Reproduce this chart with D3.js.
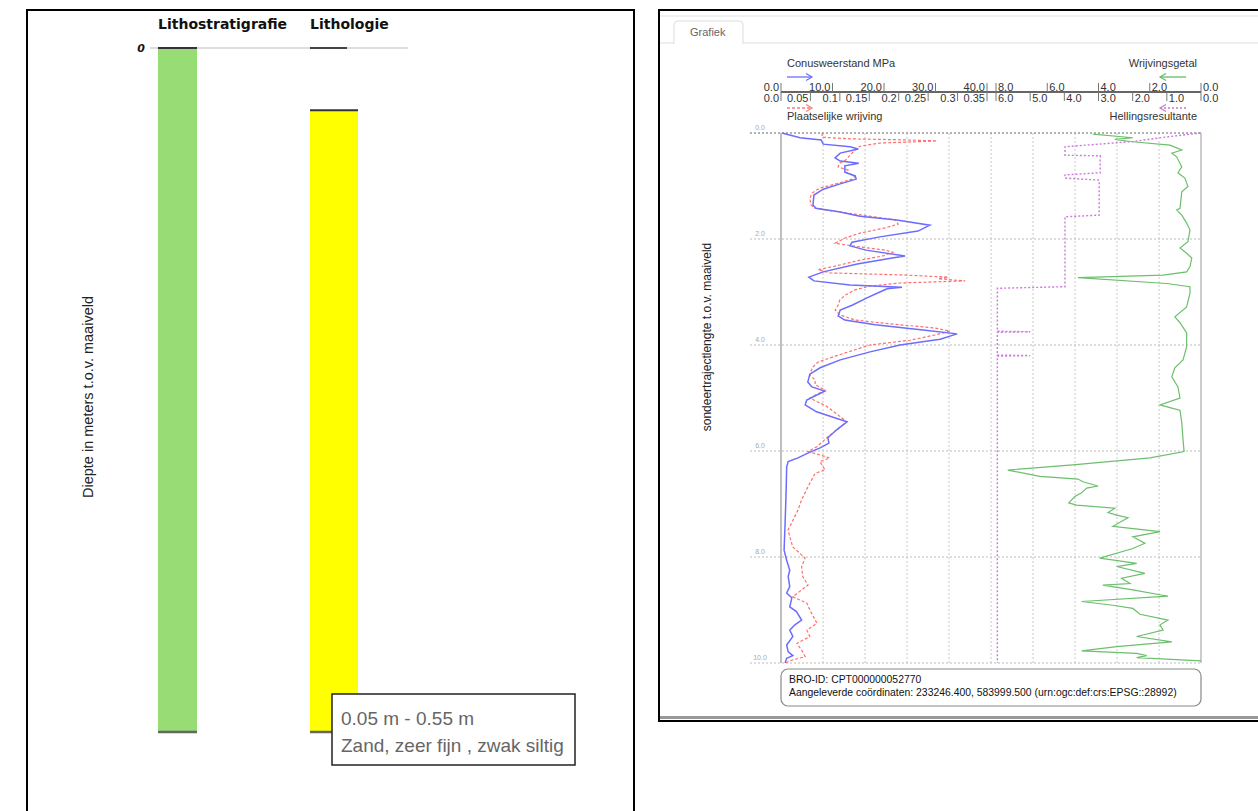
<!DOCTYPE html>
<html>
<head>
<meta charset="utf-8">
<script src="https://cdn.jsdelivr.net/npm/d3@7"></script>
<style>
  html, body { margin: 0; padding: 0; background: #fff; }
  svg { display: block; font-family: "Liberation Sans", Arial, sans-serif; }
</style>
</head>
<body>
<svg id="chart" width="1258" height="811"></svg>
<script>
// ---------- Boorprofiel (left panel) ----------
const lithoColumns = ["Lithostratigrafie", "Lithologie"];
const lithostratLayers = [{ top: 0.0, bottom: 0.55, color: "#98dc76" }];
const lithologyLayers = [{ top: 0.05, bottom: 0.55, color: "#ffff00" }];
const lithologyEmptyLayer = [{ top: 0.0, bottom: 0.05 }];
const leftDepthTicks = [0];
const tooltipLines = ["0.05 m - 0.55 m", "Zand, zeer fijn , zwak siltig"];

// ---------- Sondering (right panel) ----------
const conusTicks = [0, 10, 20, 30, 40];
const frictionTicks = [0, 0.05, 0.1, 0.15, 0.2, 0.25, 0.3, 0.35];
const frictionTickLabels = ["0.0", "0.05", "0.1", "0.15", "0.2", "0.25", "0.3", "0.35"];
const ratioTicks = [8, 6, 4, 2, 0];
const inclinationTicks = [6, 5, 4, 3, 2, 1, 0];
const depthTicks = [0, 2, 4, 6, 8, 10];

// Conusweerstand [depth m, MPa]
const conus = [
  [0.00,0.2],[0.09,3.7],[0.13,7.8],[0.21,8.2],[0.26,13.4],[0.30,15.0],[0.38,11.5],[0.47,10.5],
  [0.53,11.5],[0.57,15.1],[0.62,12.4],[0.74,12.4],[0.81,14.4],[0.87,14.6],[0.96,11.5],[1.06,8.2],
  [1.17,6.4],[1.36,6.2],[1.42,6.8],[1.49,11.5],[1.57,15.3],[1.64,22.5],[1.74,28.9],[1.85,26.6],
  [1.96,19.2],[2.06,13.8],[2.13,13.4],[2.21,16.5],[2.32,24.1],[2.36,21.6],[2.47,14.8],[2.62,8.2],
  [2.72,5.4],[2.79,6.4],[2.87,13.4],[2.91,23.5],[2.94,20.6],[3.00,19.2],[3.11,16.7],[3.25,13.8],
  [3.34,11.5],[3.45,11.1],[3.53,12.4],[3.62,18.3],[3.72,28.0],[3.79,34.2],[3.89,30.9],[4.00,23.1],
  [4.13,17.3],[4.28,11.5],[4.43,7.6],[4.55,5.6],[4.70,5.2],[4.79,6.0],[4.87,8.5],[5.04,5.0],
  [5.13,4.7],[5.26,6.9],[5.45,12.8],[5.60,10.8],[5.75,9.1],[5.85,9.3],[5.94,7.6],[6.04,5.2],
  [6.13,3.3],[6.20,1.4],[6.30,1.1],[6.74,1.0],[7.36,0.8],[7.87,0.6],[8.06,1.1],[8.25,1.7],
  [8.37,1.4],[8.56,1.7],[8.68,1.1],[8.77,2.1],[8.94,1.7],[9.03,3.0],[9.19,4.0],[9.28,2.7],
  [9.38,1.7],[9.50,2.3],[9.66,1.1],[9.79,1.4],[9.86,2.3],[9.91,1.1],[10.0,0.8]
];

// Plaatselijke wrijving [depth m, MPa]
const friction = [
  [0.00,0.070],[0.08,0.070],[0.11,0.117],[0.13,0.211],[0.15,0.265],[0.19,0.168],[0.25,0.134],
  [0.32,0.126],[0.42,0.117],[0.51,0.110],[0.57,0.100],[0.64,0.097],[0.70,0.114],[0.74,0.110],
  [0.81,0.126],[0.87,0.121],[0.94,0.100],[1.04,0.066],[1.13,0.053],[1.23,0.049],[1.36,0.051],
  [1.42,0.058],[1.49,0.100],[1.57,0.151],[1.64,0.194],[1.72,0.199],[1.79,0.177],[1.89,0.134],
  [1.98,0.109],[2.08,0.092],[2.15,0.134],[2.21,0.177],[2.25,0.190],[2.32,0.173],[2.40,0.134],
  [2.49,0.100],[2.58,0.063],[2.64,0.083],[2.68,0.211],[2.72,0.284],[2.75,0.267],[2.79,0.313],
  [2.83,0.202],[2.89,0.151],[2.96,0.126],[3.06,0.109],[3.15,0.100],[3.25,0.097],[3.34,0.092],
  [3.43,0.100],[3.53,0.126],[3.60,0.185],[3.68,0.262],[3.74,0.287],[3.81,0.262],[3.91,0.219],
  [4.00,0.151],[4.09,0.126],[4.21,0.092],[4.32,0.063],[4.43,0.053],[4.57,0.049],[4.66,0.058],
  [4.75,0.058],[4.85,0.075],[5.00,0.049],[5.16,0.078],[5.45,0.112],[5.73,0.080],[5.92,0.061],
  [6.01,0.046],[6.13,0.083],[6.20,0.066],[6.36,0.075],[6.42,0.058],[6.67,0.046],[6.92,0.035],
  [7.11,0.029],[7.36,0.018],[7.49,0.012],[7.62,0.015],[7.81,0.020],[8.02,0.041],[8.18,0.035],
  [8.37,0.037],[8.53,0.046],[8.75,0.020],[8.87,0.044],[9.00,0.049],[9.25,0.061],[9.38,0.044],
  [9.50,0.049],[9.63,0.027],[9.79,0.037],[9.88,0.041],[9.94,0.020],[10.0,0.007]
];

// Wrijvingsgetal [depth m, %]
const frictionRatio = [
  [0.02,4.22],[0.09,2.66],[0.12,3.36],[0.16,2.77],[0.23,1.21],[0.32,0.75],[0.38,1.14],[0.45,0.95],
  [0.64,0.75],[0.75,0.90],[0.85,0.63],[1.01,0.51],[1.11,0.75],[1.42,0.82],[1.45,0.95],[1.55,0.75],
  [1.70,0.56],[1.83,0.43],[2.05,0.51],[2.17,0.82],[2.27,0.56],[2.36,0.36],[2.52,0.43],[2.62,0.56],
  [2.68,1.48],[2.73,4.80],[2.84,1.34],[2.90,0.43],[3.02,0.43],[3.28,0.56],[3.47,1.02],[3.58,0.82],
  [3.77,0.56],[4.03,0.56],[4.28,0.70],[4.43,1.02],[4.60,1.14],[4.79,0.90],[5.00,0.82],[5.13,1.60],
  [5.19,1.14],[5.23,0.82],[5.47,0.75],[5.79,0.70],[6.01,0.66],[6.13,1.99],[6.26,5.00],[6.36,7.54],
  [6.48,6.29],[6.53,4.80],[6.58,4.61],[6.66,4.02],[6.70,4.46],[6.79,4.66],[6.86,4.92],[6.98,5.16],
  [7.02,4.86],[7.08,3.36],[7.16,3.63],[7.21,3.29],[7.26,2.85],[7.42,3.44],[7.52,1.60],[7.62,2.66],
  [7.74,2.19],[7.84,2.66],[8.02,3.95],[8.12,2.51],[8.18,3.29],[8.31,2.19],[8.40,3.10],[8.50,2.77],
  [8.53,3.83],[8.62,2.66],[8.74,1.29],[8.84,4.66],[8.91,3.44],[8.97,2.66],[9.08,2.38],[9.19,1.29],
  [9.28,1.60],[9.38,1.48],[9.50,2.51],[9.60,1.14],[9.69,3.29],[9.77,4.66],[9.82,2.51],[9.86,2.12],
  [9.90,2.51],[9.96,0.00]
];

// Hellingsresultante [depth m, graden]
const inclination = [
  [0.00,0.00],[0.07,0.96],[0.16,1.99],[0.26,3.98],[0.42,3.98],[0.43,2.95],[0.75,2.95],[0.79,3.98],
  [0.85,3.98],[0.89,2.98],[1.55,2.98],[1.58,3.98],[2.90,3.98],[2.93,5.96],[3.74,5.96],[3.75,5.00],
  [3.76,5.96],[4.19,5.96],[4.20,5.00],[4.21,5.96],[10.0,5.96]
];

const broId = "BRO-ID: CPT000000052770";
const coordText = "Aangeleverde coördinaten: 233246.400, 583999.500 (urn:ogc:def:crs:EPSG::28992)";

const svg = d3.select("#chart");

// ================= Left panel =================
const left = svg.append("g");
left.append("rect").attr("x", 27).attr("y", 10).attr("width", 607).attr("height", 820)
  .attr("fill", "#fff").attr("stroke", "#000").attr("stroke-width", 2);

const yLeft = d3.scaleLinear().domain([0, 0.55]).range([48, 732]);
const colX = { "Lithostratigrafie": [158, 197], "Lithologie": [310, 358] };

left.selectAll("text.coltitle").data(lithoColumns).join("text")
  .attr("x", d => colX[d][0]).attr("y", 29)
  .attr("font-family", "'DejaVu Sans', sans-serif").attr("font-weight", "bold")
  .attr("font-size", 14).attr("fill", "#111").text(d => d);

left.append("line").attr("x1", 150).attr("x2", 408)
  .attr("y1", yLeft(0)).attr("y2", yLeft(0)).attr("stroke", "#bbb").attr("stroke-width", 1.2);
left.selectAll("text.ltick").data(leftDepthTicks).join("text")
  .attr("x", 145).attr("y", d => yLeft(d) + 4).attr("text-anchor", "end")
  .attr("font-family", "'DejaVu Sans', sans-serif").attr("font-weight", "bold").attr("font-style", "italic")
  .attr("font-size", 11).attr("fill", "#111").text(d => d);

function drawLayers(layers, col) {
  const [x0, x1] = colX[col];
  layers.forEach(l => {
    left.append("rect").attr("x", x0).attr("y", yLeft(l.top))
      .attr("width", x1 - x0).attr("height", yLeft(l.bottom) - yLeft(l.top)).attr("fill", l.color);
    left.append("line").attr("x1", x0).attr("x2", x1).attr("y1", yLeft(l.top)).attr("y2", yLeft(l.top))
      .attr("stroke", "#333").attr("stroke-width", 2);
    left.append("line").attr("x1", x0).attr("x2", x1).attr("y1", yLeft(l.bottom)).attr("y2", yLeft(l.bottom))
      .attr("stroke", "#666").attr("stroke-width", 2.5);
  });
}
drawLayers(lithostratLayers, "Lithostratigrafie");
drawLayers(lithologyLayers, "Lithologie");
lithologyEmptyLayer.forEach(l => {
  left.append("line").attr("x1", 310).attr("x2", 347).attr("y1", yLeft(l.top)).attr("y2", yLeft(l.top))
    .attr("stroke", "#444").attr("stroke-width", 2);
});

left.append("text").attr("transform", "translate(93,397) rotate(-90)").attr("text-anchor", "middle")
  .attr("font-size", 14.5).attr("fill", "#222").text("Diepte in meters t.o.v. maaiveld");

// tooltip
const tip = left.append("g");
tip.append("rect").attr("x", 332).attr("y", 694).attr("width", 243).attr("height", 71)
  .attr("fill", "#fff").attr("stroke", "#222").attr("stroke-width", 1.5);
tip.selectAll("text").data(tooltipLines).join("text")
  .attr("x", 341).attr("y", (d, i) => 725 + i * 27)
  .attr("font-size", 19).attr("fill", "#666").text(d => d);

// ================= Right panel =================
const right = svg.append("g");
right.append("rect").attr("x", 659).attr("y", 10).attr("width", 620).attr("height", 711)
  .attr("fill", "#fff").attr("stroke", "#000").attr("stroke-width", 2);
right.append("line").attr("x1", 660).attr("x2", 1258).attr("y1", 16).attr("y2", 16).attr("stroke", "#e4e4e4");
right.append("rect").attr("x", 660).attr("y", 716).attr("width", 598).attr("height", 3).attr("fill", "#999");

// tab
right.append("line").attr("x1", 660).attr("x2", 1258).attr("y1", 43).attr("y2", 43).attr("stroke", "#ddd");
right.append("path").attr("d", "M674,44 L674,25 Q674,21 678,21 L739,21 Q743,21 743,25 L743,44")
  .attr("fill", "#fff").attr("stroke", "#ddd");
right.append("text").attr("x", 690).attr("y", 36).attr("font-size", 11).attr("fill", "#666").text("Grafiek");

// scales
const yR = d3.scaleLinear().domain([0, 10]).range([133, 663]);
const xGrid = d3.scaleLinear().domain([0, 10]).range([781, 1201]);
const xConus = d3.scaleLinear().domain([0, 40]).range([781, 987]);
const xFric = d3.scaleLinear().domain([0, 0.35]).range([781, 987]);
const xRatio = d3.scaleLinear().domain([8, 0]).range([996, 1201]);
const xIncl = d3.scaleLinear().domain([6, 0]).range([996, 1201]);

// grid
const grid = right.append("g");
grid.selectAll("line.v").data(d3.range(1, 10)).join("line")
  .attr("x1", d => xGrid(d)).attr("x2", d => xGrid(d)).attr("y1", yR(0)).attr("y2", yR(10))
  .attr("stroke", "#c8c8c8").attr("stroke-dasharray", "2,2");
grid.selectAll("line.h").data(depthTicks).join("line")
  .attr("x1", 750).attr("x2", 1201).attr("y1", d => yR(d)).attr("y2", d => yR(d))
  .attr("stroke", (d, i) => i === 0 ? "#999" : "#bbb").attr("stroke-width", (d, i) => i === 0 ? 1.5 : 1)
  .attr("stroke-dasharray", "2,2");
grid.append("line").attr("x1", 781).attr("x2", 781).attr("y1", yR(0)).attr("y2", yR(10))
  .attr("stroke", "#aaa").attr("stroke-width", 1.5);
grid.append("line").attr("x1", 1201).attr("x2", 1201).attr("y1", yR(0)).attr("y2", yR(10))
  .attr("stroke", "#aaa").attr("stroke-width", 1.2);
grid.selectAll("text").data(depthTicks).join("text")
  .attr("x", 760).attr("y", d => yR(d) - 3).attr("text-anchor", "middle")
  .attr("font-size", 7).attr("fill", "#aaa").text(d => d.toFixed(1));

right.append("text").attr("transform", "translate(711,337) rotate(-90)").attr("text-anchor", "middle")
  .attr("font-size", 12).attr("fill", "#222").text("sondeertrajectlengte t.o.v. maaiveld");

// header axis
const hdr = right.append("g").attr("font-size", 11).attr("fill", "#333");
const axisY = 92;
hdr.append("line").attr("x1", 781).attr("x2", 1201).attr("y1", axisY).attr("y2", axisY)
  .attr("stroke", "#333").attr("stroke-width", 1.5);

function tickRow(ticks, scale, labels, above, textSide) {
  const g = hdr.append("g");
  ticks.forEach((t, i) => {
    const x = scale(t);
    g.append("line").attr("x1", x).attr("x2", x)
      .attr("y1", above ? axisY - 9 : axisY).attr("y2", above ? axisY : axisY + 9)
      .attr("stroke", "#777").attr("stroke-width", 1);
    g.append("text").attr("x", textSide === "left" ? x - 2 : x + 2)
      .attr("y", above ? axisY - 1 : axisY + 10)
      .attr("text-anchor", textSide === "left" ? "end" : "start")
      .text(labels[i]);
  });
}
tickRow(conusTicks, xConus, conusTicks.map(d => d.toFixed(1)), true, "left");
tickRow(ratioTicks, xRatio, ratioTicks.map(d => d.toFixed(1)), true, "right");
tickRow(frictionTicks, xFric, frictionTickLabels, false, "left");
tickRow(inclinationTicks, xIncl, inclinationTicks.map(d => d.toFixed(1)), false, "right");

hdr.append("text").attr("x", 787).attr("y", 67).text("Conusweerstand MPa");
hdr.append("text").attr("x", 1197).attr("y", 67).attr("text-anchor", "end").text("Wrijvingsgetal");
hdr.append("text").attr("x", 787).attr("y", 120).text("Plaatselijke wrijving");
hdr.append("text").attr("x", 1197).attr("y", 120).attr("text-anchor", "end").text("Hellingsresultante");

function arrow(x1, x2, y, color, dash) {
  const dir = Math.sign(x2 - x1);
  hdr.append("line").attr("x1", x1).attr("x2", x2).attr("y1", y).attr("y2", y)
    .attr("stroke", color).attr("stroke-width", 1.3).attr("stroke-dasharray", dash);
  hdr.append("path").attr("d", `M${x2 - dir * 6},${y - 3.5} L${x2},${y} L${x2 - dir * 6},${y + 3.5}`)
    .attr("fill", "none").attr("stroke", color).attr("stroke-width", 1.2);
}
arrow(787, 812, 77, "#6c6cff", null);
arrow(1186, 1160, 77, "#66bb66", null);
arrow(787, 812, 108, "#ff7a7a", "3,2");
arrow(1186, 1160, 108, "#cc77cc", "2,2");

// curves
const curves = right.append("g").attr("fill", "none");
const mkLine = xs => d3.line().x(d => xs(d[1])).y(d => yR(d[0]));
curves.append("path").datum(inclination).attr("d", mkLine(xIncl))
  .attr("stroke", "#cc77dd").attr("stroke-width", 1.4).attr("stroke-dasharray", "2,2");
curves.append("path").datum(frictionRatio).attr("d", mkLine(xRatio))
  .attr("stroke", "#6cbf6c").attr("stroke-width", 1.2);
curves.append("path").datum(friction).attr("d", mkLine(xFric))
  .attr("stroke", "#ff6f6f").attr("stroke-width", 1.2).attr("stroke-dasharray", "3,2");
curves.append("path").datum(conus).attr("d", mkLine(xConus))
  .attr("stroke", "#6c6cff").attr("stroke-width", 1.5);

// info box
const info = right.append("g");
info.append("rect").attr("x", 781).attr("y", 669).attr("width", 420).attr("height", 37).attr("rx", 7)
  .attr("fill", "#fff").attr("stroke", "#888").attr("stroke-width", 1.2);
info.selectAll("text").data([broId, coordText]).join("text")
  .attr("x", 789).attr("y", (d, i) => 683 + i * 13).attr("font-size", 10.4).attr("fill", "#111").text(d => d);
</script>
</body>
</html>
